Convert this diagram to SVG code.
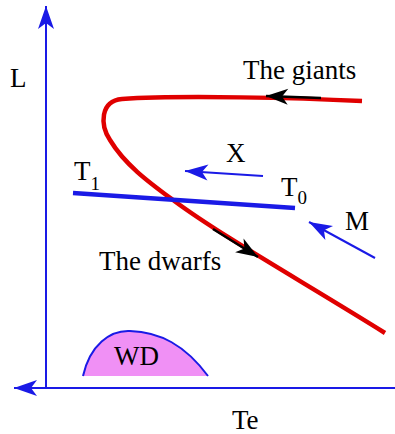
<svg xmlns="http://www.w3.org/2000/svg" width="395" height="434" viewBox="0 0 395 434">
<defs>
<style>
text{font-family:"Liberation Serif","Times New Roman",serif;fill:#000}
.lbl{font-size:27px}
.sub{font-size:19px}
.ax{stroke:#1a1ae6;stroke-width:2;fill:none}
.bl{stroke:#1a1ae6;stroke-width:2;fill:none}
.blk{stroke:#000;stroke-width:2.5;fill:none}
</style>
<marker id="ab" markerUnits="userSpaceOnUse" viewBox="-24 -10 26 20" refX="0" refY="0" markerWidth="26" markerHeight="20" orient="auto" overflow="visible">
<path d="M0,0 L-23,-8 L-17,0 L-23,8 Z" fill="#1a1ae6"/>
</marker>
<marker id="ak" markerUnits="userSpaceOnUse" viewBox="-24 -10 26 20" refX="0" refY="0" markerWidth="26" markerHeight="20" orient="auto" overflow="visible">
<path d="M0,0 L-22,-8 L-16,0 L-22,8 Z" fill="#000"/>
</marker>
</defs>
<rect width="395" height="434" fill="#fff"/>
<g id="axes">
<line class="ax" x1="46" y1="388" x2="46" y2="6" marker-end="url(#ab)"/>
<line class="ax" x1="395" y1="388" x2="14" y2="388" marker-end="url(#ab)"/>
<text class="lbl" x="10" y="87">L</text>
<text class="lbl" x="232" y="429">Te</text>
</g>
<g id="wd">
<path d="M83,376 C90,345 110,330 130,331 C160,332 185,345 208,376 Z" fill="#f090f5"/>
<path d="M83,376 C90,345 110,330 130,331 C160,332 185,345 208,376" fill="none" stroke="#1a1ae6" stroke-width="2"/>
<text class="lbl" x="114" y="365">WD</text>
</g>
<g id="track">
<path d="M362,101 C300,98 180,95 122,99 C100,101 100,125 110,140 C125,165 150,183 173,200 C220,235 300,280 385,333" fill="none" stroke="#e00000" stroke-width="4.5"/>
<text class="lbl" x="243" y="79">The giants</text>
<text class="lbl" x="99" y="270">The dwarfs</text>
</g>
<g id="connectors">
<line class="blk" x1="321" y1="98" x2="266" y2="96" marker-end="url(#ak)"/>
<line class="blk" x1="213" y1="229" x2="258" y2="257" marker-end="url(#ak)"/>
<line class="bl" x1="263" y1="176" x2="185" y2="171" marker-end="url(#ab)"/>
<line class="bl" x1="375" y1="258" x2="309" y2="222" marker-end="url(#ab)"/>
</g>
<g id="tline">
<line x1="73" y1="193" x2="295" y2="208" stroke="#1a1ae6" stroke-width="4.5"/>
<text class="lbl" x="74" y="180">T<tspan class="sub" dy="10">1</tspan></text>
<text class="lbl" x="281" y="196">T<tspan class="sub" dy="8">0</tspan></text>
</g>
<g id="x"><text class="lbl" x="226" y="162">X</text></g>
<g id="m"><text class="lbl" x="345" y="230">M</text></g>
</svg>
